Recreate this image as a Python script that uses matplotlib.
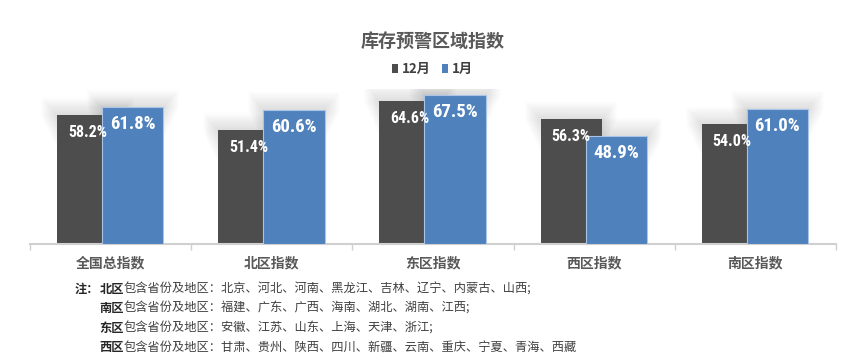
import matplotlib

matplotlib.use("Agg")

import matplotlib.pyplot as plt
from matplotlib import font_manager
from matplotlib.patches import Patch, Rectangle
import numpy as np

CATEGORIES = ["全国总指数", "北区指数", "东区指数", "西区指数", "南区指数"]
DEC_VALUES = [58.2, 51.4, 64.6, 56.3, 54.0]
JAN_VALUES = [61.8, 60.6, 67.5, 48.9, 61.0]
SERIES_NAMES = ["12月", "1月"]
TITLE = "库存预警区域指数"
NOTE_LEAD = "注："
NOTE_ROWS = [
    ("北区", "包含省份及地区：北京、河北、河南、黑龙江、吉林、辽宁、内蒙古、山西;"),
    ("南区", "包含省份及地区：福建、广东、广西、海南、湖北、湖南、江西;"),
    ("东区", "包含省份及地区：安徽、江苏、山东、上海、天津、浙江;"),
    ("西区", "包含省份及地区：甘肃、贵州、陕西、四川、新疆、云南、重庆、宁夏、青海、西藏"),
]

DARK = "#4d4d4d"
BLUE = "#4f81bd"
TEXT = "#595959"
CJK = ["Noto Sans CJK SC", "DejaVu Sans"]

installed = {f.name for f in font_manager.fontManager.ttflist}
NARROW = next((n for n in ("Liberation Sans Narrow", "DejaVu Sans Condensed", "Roboto Condensed")
               if n in installed), "DejaVu Sans")

plt.rcParams["font.family"] = CJK

W, H, DPI = 865, 361, 100
fig = plt.figure(figsize=(W / DPI, H / DPI), dpi=DPI)
fig.patch.set_facecolor("white")

# axes box in pixels: x 30..836, baseline at y=243.7 from top
ax_left, ax_right = 30, 836
base_y = 243.7
ymax = 70
px_per_unit = 2.21
ax_h = ymax * px_per_unit
ax = fig.add_axes([ax_left / W, (H - base_y) / H, (ax_right - ax_left) / W, ax_h / H])
ax.set_xlim(-0.5, len(CATEGORIES) - 0.5)
ax.set_ylim(0, ymax)

x = np.arange(len(CATEGORIES))
width = 0.38
off_dark, off_blue = -0.143, 0.137

# soft glow around each bar top (Excel outer shadow look)
layers = 16
for values, off in ((DEC_VALUES, off_dark), (JAN_VALUES, off_blue)):
    for xi, top in zip(x, values):
        left = xi + off - width / 2
        for k in range(1, layers + 1):
            dx = k * 0.006
            dy = k * 0.5
            depth = (layers + 1 - k) * 0.9
            ax.add_patch(Rectangle((left - dx, top - depth), width + 2 * dx, depth + dy,
                                   facecolor="black", edgecolor="none", alpha=0.006, zorder=1))

ax.bar(x + off_dark, DEC_VALUES, width, color=DARK, zorder=2, label=SERIES_NAMES[0])
ax.bar(x + off_blue, JAN_VALUES, width, color=BLUE, edgecolor="#a9c4e6", linewidth=0.8,
       zorder=3, label=SERIES_NAMES[1])

for xi, v in zip(x, DEC_VALUES):
    ax.annotate(f"{v:.1f}%", (xi + off_dark, v), xytext=(0, -12.5), textcoords="offset points",
                ha="center", va="center", color="white", fontsize=11.5, fontweight="bold",
                family=[NARROW, "DejaVu Sans"], zorder=5)
for xi, v in zip(x, JAN_VALUES):
    ax.annotate(f"{v:.1f}%", (xi + off_blue, v), xytext=(0, -12.5), textcoords="offset points",
                ha="center", va="center", color="white", fontsize=13.5, fontweight="bold",
                family=[NARROW, "DejaVu Sans"], zorder=5)

for s in ("top", "right", "left"):
    ax.spines[s].set_visible(False)
ax.spines["bottom"].set_color("#d0d0d0")
ax.spines["bottom"].set_linewidth(1.5)
ax.set_yticks([])
ax.set_xticks(np.arange(-0.5, len(CATEGORIES), 1.0))
ax.set_xticklabels([])
ax.tick_params(axis="x", which="major", length=4, width=1.0, color="#d0d0d0")
ax.set_xticks(x, minor=True)
ax.set_xticklabels(CATEGORIES, minor=True, fontsize=10, fontweight="bold", color=TEXT)
ax.tick_params(axis="x", which="minor", length=0, pad=9)

fig.text(0.5, 1 - 41 / H, TITLE, ha="center", va="center", fontsize=13, fontweight="bold",
         color=TEXT)
handles = [Patch(facecolor=DARK), Patch(facecolor=BLUE)]
fig.legend(handles, SERIES_NAMES, loc="center", bbox_to_anchor=(0.5, 1 - 69 / H), ncol=2,
           frameon=False, handlelength=0.45, handleheight=0.6, handletextpad=0.3,
           columnspacing=0.9, prop={"family": CJK, "size": 9.5, "weight": "bold"},
           labelcolor="#404040")

note_size = 8.8
em = note_size * DPI / 72
x0 = 75
row_y = [289, 308.5, 328, 347]
fig.text(x0 / W, 1 - row_y[0] / H, NOTE_LEAD, ha="left", va="center", fontsize=note_size,
         fontweight="bold", color="#262626")
for (name, rest), yy in zip(NOTE_ROWS, row_y):
    xs = x0 + 2 * em
    fig.text(xs / W, 1 - yy / H, name, ha="left", va="center", fontsize=note_size,
             fontweight="bold", color="#262626")
    fig.text((xs + 2 * em) / W, 1 - yy / H, rest, ha="left", va="center", fontsize=note_size,
             color="#404040")

fig.savefig("out.png", dpi=DPI, facecolor="white")
